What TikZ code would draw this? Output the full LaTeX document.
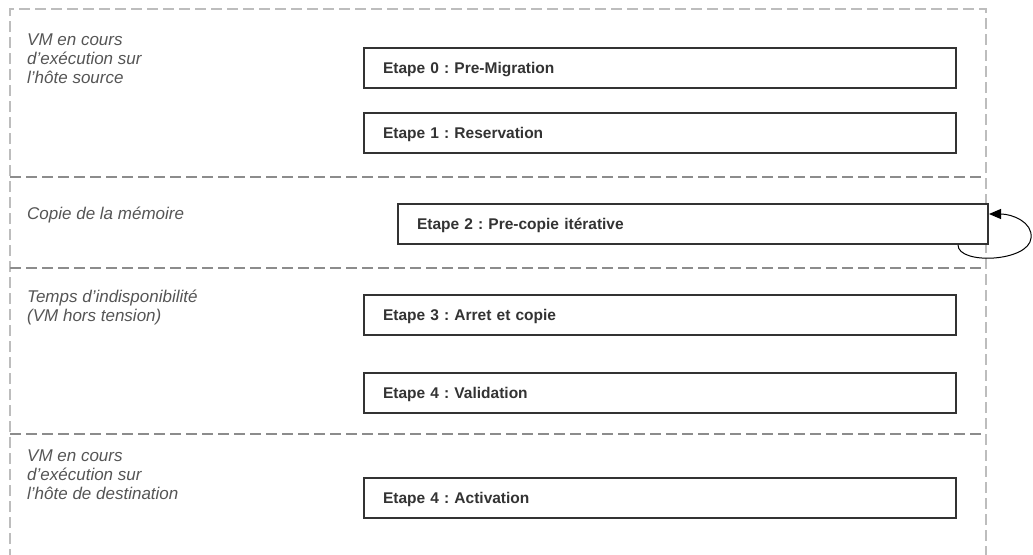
\documentclass[tikz,border=0pt]{standalone}
\usepackage{fontspec}
\setmainfont{Liberation Sans}
\usetikzlibrary{arrows.meta}
\definecolor{boxline}{HTML}{333333}
\definecolor{textdark}{HTML}{333333}
\definecolor{labelgray}{HTML}{555555}
\definecolor{sepgray}{HTML}{8C8C8C}
\definecolor{outergray}{HTML}{BDBDBD}
\frenchspacing
\begin{document}
\begin{tikzpicture}[x=1pt,y=-1pt,
  stepbox/.style={draw=boxline, line width=2pt, fill=white, minimum height=40pt,
    text width=554pt, inner xsep=19pt, inner ysep=0pt, align=left, anchor=west,
    text height=11pt, text depth=0pt,
    font=\fontsize{15.5}{18}\selectfont\bfseries, text=textdark},
  phaselabel/.style={anchor=base west, align=left, inner sep=0pt,
    font=\fontsize{17}{19}\selectfont\itshape, text=labelgray},
  sepline/.style={draw=sepgray, line width=1.8pt, dash pattern=on 11pt off 5pt},
  outerline/.style={draw=outergray, line width=1.8pt, dash pattern=on 11pt off 5pt},
  loop/.style={draw=black, line width=1pt, -{Triangle[length=12pt,width=10pt]}}]
\useasboundingbox (0,0) rectangle (1033,554);
% outer frame (open at bottom)
\coordinate (tl) at (10,9);
\coordinate (tr) at (986,9);
\coordinate (bl) at (10,560);
\coordinate (br) at (986,560);
\draw[outerline] (bl) -- (tl) -- (tr) -- (br);
% separators
\coordinate (s1l) at (10,177);
\coordinate (s1r) at (986,177);
\coordinate (s2l) at (10,268);
\coordinate (s2r) at (986,268);
\coordinate (s3l) at (10,434);
\coordinate (s3r) at (986,434);
\draw[sepline] (s1l) -- (s1r);
\draw[sepline] (s2l) -- (s2r);
\draw[sepline] (s3l) -- (s3r);
% phase labels (anchored at the baseline of their last line)
\node[phaselabel] (l1) at (27,83) {VM en cours\\d'exécution sur\\l'hôte source};
\node[phaselabel] (l2) at (27,219) {Copie de la mémoire};
\node[phaselabel] (l3) at (27,321) {Temps d'indisponibilité\\(VM hors tension)};
\node[phaselabel] (l4) at (27,499) {VM en cours\\d'exécution sur\\l'hôte de destination};
% steps
\node[stepbox] (e0) at (363,68) {Etape 0 : Pre-Migration};
\node[stepbox] (e1) at (363,133) {Etape 1 : Reservation};
\node[stepbox, text width=552pt] (e2) at (397,224) {Etape 2 : Pre-copie itérative};
\node[stepbox] (e3) at (363,315) {Etape 3 : Arret et copie};
\node[stepbox] (e4) at (363,393) {Etape 4 : Validation};
\node[stepbox] (e5) at (363,498) {Etape 4 : Activation};
% loop
\coordinate (lp) at (1031,238);
\draw[loop] ([xshift=-31pt]e2.south east) .. controls +(0,20) and (1029,262) .. (lp)
  .. controls (1033,222) and (1012,214) .. ([yshift=10pt]e2.east);
\end{tikzpicture}
\end{document}
